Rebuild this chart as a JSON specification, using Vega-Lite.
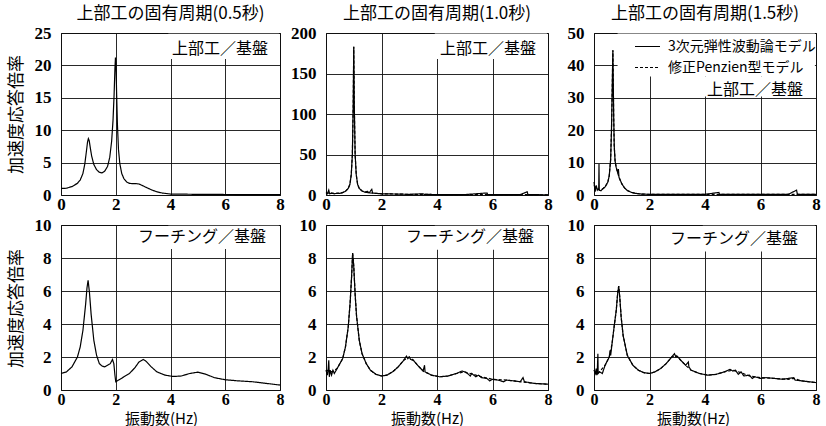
{
"$schema": "https://vega.github.io/schema/vega-lite/v6.json",
"background": "white",
"padding": {"left": 6, "top": 4, "right": 5, "bottom": 2},
"datasets": {
"boxes": [
{"p":1,"x":3.92,"x2":7.96,"y":21,"y2":24.9},
{"p":2,"x":3.92,"x2":7.96,"y":168,"y2":199.3},
{"p":3,"x":0.85,"x2":7.96,"y":36.6,"y2":49.85},
{"p":3,"x":3.9,"x2":7.96,"y":30.4,"y2":36.6},
{"p":4,"x":3.92,"x2":7.96,"y":8.55,"y2":9.95},
{"p":5,"x":3.92,"x2":7.96,"y":8.5,"y2":9.95},
{"p":6,"x":3.92,"x2":7.96,"y":8.4,"y2":9.95}
],
"labels": [
{"p":1,"x":7.56,"y":22.5,"t":"上部工／基盤"},
{"p":2,"x":7.57,"y":180,"t":"上部工／基盤"},
{"p":3,"x":7.53,"y":32.4,"t":"上部工／基盤"},
{"p":4,"x":7.49,"y":9.27,"t":"フーチング／基盤"},
{"p":5,"x":7.5,"y":9.27,"t":"フーチング／基盤"},
{"p":6,"x":7.35,"y":9.15,"t":"フーチング／基盤"}
],
"c": [
{"p":1,"m":"A","x":0,"y":1.0},{"p":1,"m":"A","x":0.2,"y":1.05},{"p":1,"m":"A","x":0.4,"y":1.3},{"p":1,"m":"A","x":0.6,"y":1.8},{"p":1,"m":"A","x":0.7,"y":2.3},{"p":1,"m":"A","x":0.8,"y":3.3},{"p":1,"m":"A","x":0.87,"y":4.8},{"p":1,"m":"A","x":0.93,"y":6.8},{"p":1,"m":"A","x":0.97,"y":8.2},{"p":1,"m":"A","x":1.0,"y":8.7},{"p":1,"m":"A","x":1.03,"y":8.4},{"p":1,"m":"A","x":1.07,"y":7.3},{"p":1,"m":"A","x":1.12,"y":6.0},{"p":1,"m":"A","x":1.2,"y":4.7},{"p":1,"m":"A","x":1.3,"y":3.9},{"p":1,"m":"A","x":1.4,"y":3.5},{"p":1,"m":"A","x":1.5,"y":3.4},{"p":1,"m":"A","x":1.6,"y":3.7},{"p":1,"m":"A","x":1.7,"y":4.4},{"p":1,"m":"A","x":1.78,"y":5.8},{"p":1,"m":"A","x":1.85,"y":8.3},{"p":1,"m":"A","x":1.9,"y":11.5},{"p":1,"m":"A","x":1.94,"y":15.5},{"p":1,"m":"A","x":1.97,"y":19.5},{"p":1,"m":"A","x":1.99,"y":21.2},{"p":1,"m":"A","x":2.01,"y":20},{"p":1,"m":"A","x":2.03,"y":16},{"p":1,"m":"A","x":2.06,"y":11},{"p":1,"m":"A","x":2.1,"y":7},{"p":1,"m":"A","x":2.15,"y":4.8},{"p":1,"m":"A","x":2.22,"y":3.3},{"p":1,"m":"A","x":2.3,"y":2.5},{"p":1,"m":"A","x":2.4,"y":2.0},{"p":1,"m":"A","x":2.5,"y":1.8},{"p":1,"m":"A","x":2.6,"y":1.75},{"p":1,"m":"A","x":2.75,"y":1.75},{"p":1,"m":"A","x":2.85,"y":1.7},{"p":1,"m":"A","x":2.95,"y":1.5},{"p":1,"m":"A","x":3.1,"y":1.2},{"p":1,"m":"A","x":3.3,"y":0.8},{"p":1,"m":"A","x":3.5,"y":0.5},{"p":1,"m":"A","x":3.7,"y":0.3},{"p":1,"m":"A","x":4.0,"y":0.15},{"p":1,"m":"A","x":5,"y":0.1},{"p":1,"m":"A","x":6,"y":0.08},{"p":1,"m":"A","x":7,"y":0.06},{"p":1,"m":"A","x":8,"y":0.05},

{"p":2,"m":"B","x":0,"y":2.5},{"p":2,"m":"B","x":0.2,"y":2},{"p":2,"m":"B","x":0.4,"y":2},{"p":2,"m":"B","x":0.6,"y":3},{"p":2,"m":"B","x":0.7,"y":4.5},{"p":2,"m":"B","x":0.8,"y":8},{"p":2,"m":"B","x":0.86,"y":13},{"p":2,"m":"B","x":0.91,"y":25},{"p":2,"m":"B","x":0.95,"y":50},{"p":2,"m":"B","x":0.98,"y":110},{"p":2,"m":"B","x":1.0,"y":183},{"p":2,"m":"B","x":1.02,"y":110},{"p":2,"m":"B","x":1.05,"y":50},{"p":2,"m":"B","x":1.09,"y":25},{"p":2,"m":"B","x":1.14,"y":13},{"p":2,"m":"B","x":1.2,"y":8},{"p":2,"m":"B","x":1.3,"y":5},{"p":2,"m":"B","x":1.4,"y":3.5},{"p":2,"m":"B","x":1.6,"y":2.5},{"p":2,"m":"B","x":1.8,"y":2},{"p":2,"m":"B","x":2,"y":1.5},{"p":2,"m":"B","x":3,"y":0.8},{"p":2,"m":"B","x":4,"y":0.6},{"p":2,"m":"B","x":5,"y":0.5},{"p":2,"m":"B","x":6,"y":0.5},{"p":2,"m":"B","x":7,"y":0.4},{"p":2,"m":"B","x":8,"y":0.3},
{"p":2,"m":"A","x":0,"y":3},{"p":2,"m":"A","x":0.05,"y":1.5},{"p":2,"m":"A","x":0.1,"y":6},{"p":2,"m":"A","x":0.13,"y":1.5},{"p":2,"m":"A","x":0.2,"y":2.5},{"p":2,"m":"A","x":0.3,"y":1.5},{"p":2,"m":"A","x":0.4,"y":2.2},{"p":2,"m":"A","x":0.5,"y":2},{"p":2,"m":"A","x":0.6,"y":3},{"p":2,"m":"A","x":0.7,"y":4.5},{"p":2,"m":"A","x":0.8,"y":8},{"p":2,"m":"A","x":0.86,"y":13},{"p":2,"m":"A","x":0.91,"y":25},{"p":2,"m":"A","x":0.95,"y":50},{"p":2,"m":"A","x":0.98,"y":110},{"p":2,"m":"A","x":1.0,"y":183},{"p":2,"m":"A","x":1.02,"y":110},{"p":2,"m":"A","x":1.05,"y":50},{"p":2,"m":"A","x":1.09,"y":25},{"p":2,"m":"A","x":1.14,"y":13},{"p":2,"m":"A","x":1.2,"y":8},{"p":2,"m":"A","x":1.3,"y":5},{"p":2,"m":"A","x":1.4,"y":3.5},{"p":2,"m":"A","x":1.5,"y":4.5},{"p":2,"m":"A","x":1.55,"y":2.5},{"p":2,"m":"A","x":1.65,"y":7},{"p":2,"m":"A","x":1.68,"y":2.5},{"p":2,"m":"A","x":1.8,"y":2},{"p":2,"m":"A","x":2,"y":1.5},{"p":2,"m":"A","x":2.5,"y":1.2},{"p":2,"m":"A","x":3,"y":0.8},{"p":2,"m":"A","x":3.5,"y":1.5},{"p":2,"m":"A","x":3.55,"y":0.7},{"p":2,"m":"A","x":4,"y":0.6},{"p":2,"m":"A","x":5,"y":0.5},{"p":2,"m":"A","x":5.8,"y":2.5},{"p":2,"m":"A","x":5.83,"y":0.5},{"p":2,"m":"A","x":6,"y":0.5},{"p":2,"m":"A","x":7,"y":0.4},{"p":2,"m":"A","x":7.25,"y":4},{"p":2,"m":"A","x":7.28,"y":0.4},{"p":2,"m":"A","x":8,"y":0.3},

{"p":3,"m":"B","x":0,"y":3},{"p":3,"m":"B","x":0.1,"y":2},{"p":3,"m":"B","x":0.2,"y":1.5},{"p":3,"m":"B","x":0.3,"y":1.8},{"p":3,"m":"B","x":0.4,"y":2.5},{"p":3,"m":"B","x":0.5,"y":4},{"p":3,"m":"B","x":0.55,"y":6},{"p":3,"m":"B","x":0.6,"y":11},{"p":3,"m":"B","x":0.63,"y":20},{"p":3,"m":"B","x":0.655,"y":32},{"p":3,"m":"B","x":0.67,"y":40},{"p":3,"m":"B","x":0.68,"y":44.7},{"p":3,"m":"B","x":0.69,"y":38},{"p":3,"m":"B","x":0.71,"y":24},{"p":3,"m":"B","x":0.73,"y":15},{"p":3,"m":"B","x":0.76,"y":10.5},{"p":3,"m":"B","x":0.8,"y":8.5},{"p":3,"m":"B","x":0.85,"y":7},{"p":3,"m":"B","x":0.9,"y":5.5},{"p":3,"m":"B","x":1.0,"y":3.5},{"p":3,"m":"B","x":1.1,"y":2.2},{"p":3,"m":"B","x":1.2,"y":1.4},{"p":3,"m":"B","x":1.35,"y":0.8},{"p":3,"m":"B","x":1.5,"y":0.5},{"p":3,"m":"B","x":1.7,"y":0.3},{"p":3,"m":"B","x":2,"y":0.2},{"p":3,"m":"B","x":4,"y":0.2},{"p":3,"m":"B","x":6,"y":0.2},{"p":3,"m":"B","x":8,"y":0.2},
{"p":3,"m":"A","x":0,"y":4},{"p":3,"m":"A","x":0.04,"y":1},{"p":3,"m":"A","x":0.08,"y":3},{"p":3,"m":"A","x":0.12,"y":1.5},{"p":3,"m":"A","x":0.17,"y":2},{"p":3,"m":"A","x":0.18,"y":9.6},{"p":3,"m":"A","x":0.19,"y":1.5},{"p":3,"m":"A","x":0.25,"y":1.3},{"p":3,"m":"A","x":0.3,"y":1.8},{"p":3,"m":"A","x":0.4,"y":2.5},{"p":3,"m":"A","x":0.5,"y":4},{"p":3,"m":"A","x":0.55,"y":6},{"p":3,"m":"A","x":0.6,"y":11},{"p":3,"m":"A","x":0.63,"y":20},{"p":3,"m":"A","x":0.655,"y":32},{"p":3,"m":"A","x":0.67,"y":40},{"p":3,"m":"A","x":0.68,"y":44.7},{"p":3,"m":"A","x":0.69,"y":38},{"p":3,"m":"A","x":0.71,"y":24},{"p":3,"m":"A","x":0.73,"y":15},{"p":3,"m":"A","x":0.76,"y":10.5},{"p":3,"m":"A","x":0.8,"y":8.5},{"p":3,"m":"A","x":0.85,"y":7},{"p":3,"m":"A","x":0.88,"y":8},{"p":3,"m":"A","x":0.9,"y":5.5},{"p":3,"m":"A","x":1.0,"y":3.5},{"p":3,"m":"A","x":1.1,"y":2.2},{"p":3,"m":"A","x":1.2,"y":1.4},{"p":3,"m":"A","x":1.35,"y":0.8},{"p":3,"m":"A","x":1.5,"y":0.5},{"p":3,"m":"A","x":1.7,"y":0.3},{"p":3,"m":"A","x":2,"y":0.2},{"p":3,"m":"A","x":3,"y":0.2},{"p":3,"m":"A","x":4,"y":0.2},{"p":3,"m":"A","x":4.5,"y":0.8},{"p":3,"m":"A","x":4.52,"y":0.2},{"p":3,"m":"A","x":5,"y":0.2},{"p":3,"m":"A","x":6,"y":0.2},{"p":3,"m":"A","x":7,"y":0.2},{"p":3,"m":"A","x":7.3,"y":1.5},{"p":3,"m":"A","x":7.33,"y":0.2},{"p":3,"m":"A","x":8,"y":0.2},

{"p":4,"m":"A","x":0,"y":1.0},{"p":4,"m":"A","x":0.2,"y":1.1},{"p":4,"m":"A","x":0.4,"y":1.4},{"p":4,"m":"A","x":0.6,"y":2.0},{"p":4,"m":"A","x":0.7,"y":2.6},{"p":4,"m":"A","x":0.8,"y":3.6},{"p":4,"m":"A","x":0.9,"y":5.2},{"p":4,"m":"A","x":0.95,"y":6.2},{"p":4,"m":"A","x":0.99,"y":6.65},{"p":4,"m":"A","x":1.04,"y":5.9},{"p":4,"m":"A","x":1.1,"y":4.6},{"p":4,"m":"A","x":1.2,"y":3.0},{"p":4,"m":"A","x":1.3,"y":2.1},{"p":4,"m":"A","x":1.4,"y":1.6},{"p":4,"m":"A","x":1.5,"y":1.45},{"p":4,"m":"A","x":1.6,"y":1.4},{"p":4,"m":"A","x":1.7,"y":1.5},{"p":4,"m":"A","x":1.8,"y":1.6},{"p":4,"m":"A","x":1.88,"y":1.85},{"p":4,"m":"A","x":1.93,"y":1.6},{"p":4,"m":"A","x":1.97,"y":0.9},{"p":4,"m":"A","x":2.0,"y":0.5},{"p":4,"m":"A","x":2.1,"y":0.6},{"p":4,"m":"A","x":2.3,"y":0.8},{"p":4,"m":"A","x":2.5,"y":1.0},{"p":4,"m":"A","x":2.7,"y":1.35},{"p":4,"m":"A","x":2.85,"y":1.7},{"p":4,"m":"A","x":3.0,"y":1.85},{"p":4,"m":"A","x":3.1,"y":1.75},{"p":4,"m":"A","x":3.3,"y":1.4},{"p":4,"m":"A","x":3.5,"y":1.1},{"p":4,"m":"A","x":3.8,"y":0.9},{"p":4,"m":"A","x":4.1,"y":0.82},{"p":4,"m":"A","x":4.4,"y":0.85},{"p":4,"m":"A","x":4.7,"y":1.0},{"p":4,"m":"A","x":5.0,"y":1.08},{"p":4,"m":"A","x":5.3,"y":0.95},{"p":4,"m":"A","x":5.6,"y":0.75},{"p":4,"m":"A","x":6.0,"y":0.62},{"p":4,"m":"A","x":6.5,"y":0.55},{"p":4,"m":"A","x":7.0,"y":0.5},{"p":4,"m":"A","x":7.5,"y":0.4},{"p":4,"m":"A","x":8.0,"y":0.3},

{"p":5,"m":"B","x":0,"y":1.2},{"p":5,"m":"B","x":0.2,"y":1.1},{"p":5,"m":"B","x":0.4,"y":1.3},{"p":5,"m":"B","x":0.6,"y":1.9},{"p":5,"m":"B","x":0.7,"y":2.6},{"p":5,"m":"B","x":0.8,"y":3.8},{"p":5,"m":"B","x":0.87,"y":5.3},{"p":5,"m":"B","x":0.92,"y":6.8},{"p":5,"m":"B","x":0.96,"y":8.3},{"p":5,"m":"B","x":1.0,"y":7.5},{"p":5,"m":"B","x":1.05,"y":5.8},{"p":5,"m":"B","x":1.1,"y":4.5},{"p":5,"m":"B","x":1.2,"y":3.0},{"p":5,"m":"B","x":1.3,"y":2.2},{"p":5,"m":"B","x":1.45,"y":1.6},{"p":5,"m":"B","x":1.6,"y":1.2},{"p":5,"m":"B","x":1.8,"y":0.95},{"p":5,"m":"B","x":2.0,"y":0.85},{"p":5,"m":"B","x":2.2,"y":0.9},{"p":5,"m":"B","x":2.4,"y":1.1},{"p":5,"m":"B","x":2.6,"y":1.4},{"p":5,"m":"B","x":2.8,"y":1.8},{"p":5,"m":"B","x":3.0,"y":2.0},{"p":5,"m":"B","x":3.15,"y":1.8},{"p":5,"m":"B","x":3.3,"y":1.5},{"p":5,"m":"B","x":3.5,"y":1.15},{"p":5,"m":"B","x":3.8,"y":0.9},{"p":5,"m":"B","x":4.1,"y":0.8},{"p":5,"m":"B","x":4.4,"y":0.85},{"p":5,"m":"B","x":4.7,"y":1.0},{"p":5,"m":"B","x":5.0,"y":1.1},{"p":5,"m":"B","x":5.3,"y":0.95},{"p":5,"m":"B","x":5.6,"y":0.8},{"p":5,"m":"B","x":6.0,"y":0.65},{"p":5,"m":"B","x":6.5,"y":0.6},{"p":5,"m":"B","x":7.0,"y":0.5},{"p":5,"m":"B","x":7.5,"y":0.4},{"p":5,"m":"B","x":8.0,"y":0.35},
{"p":5,"m":"A","x":0,"y":1.2},{"p":5,"m":"A","x":0.05,"y":0.9},{"p":5,"m":"A","x":0.08,"y":1.3},{"p":5,"m":"A","x":0.1,"y":1.8},{"p":5,"m":"A","x":0.12,"y":0.8},{"p":5,"m":"A","x":0.15,"y":1.2},{"p":5,"m":"A","x":0.2,"y":0.9},{"p":5,"m":"A","x":0.25,"y":1.2},{"p":5,"m":"A","x":0.3,"y":1.0},{"p":5,"m":"A","x":0.4,"y":1.3},{"p":5,"m":"A","x":0.6,"y":1.9},{"p":5,"m":"A","x":0.7,"y":2.6},{"p":5,"m":"A","x":0.8,"y":3.8},{"p":5,"m":"A","x":0.87,"y":5.3},{"p":5,"m":"A","x":0.92,"y":6.8},{"p":5,"m":"A","x":0.96,"y":8.3},{"p":5,"m":"A","x":1.0,"y":7.5},{"p":5,"m":"A","x":1.05,"y":5.8},{"p":5,"m":"A","x":1.1,"y":4.5},{"p":5,"m":"A","x":1.2,"y":3.0},{"p":5,"m":"A","x":1.3,"y":2.2},{"p":5,"m":"A","x":1.45,"y":1.6},{"p":5,"m":"A","x":1.6,"y":1.2},{"p":5,"m":"A","x":1.8,"y":0.95},{"p":5,"m":"A","x":2.0,"y":0.85},{"p":5,"m":"A","x":2.2,"y":0.9},{"p":5,"m":"A","x":2.4,"y":1.1},{"p":5,"m":"A","x":2.6,"y":1.4},{"p":5,"m":"A","x":2.8,"y":1.8},{"p":5,"m":"A","x":2.9,"y":2.05},{"p":5,"m":"A","x":2.95,"y":1.9},{"p":5,"m":"A","x":3.0,"y":2.0},{"p":5,"m":"A","x":3.05,"y":1.85},{"p":5,"m":"A","x":3.15,"y":1.8},{"p":5,"m":"A","x":3.3,"y":1.5},{"p":5,"m":"A","x":3.5,"y":1.15},{"p":5,"m":"A","x":3.55,"y":1.5},{"p":5,"m":"A","x":3.57,"y":1.1},{"p":5,"m":"A","x":3.8,"y":0.9},{"p":5,"m":"A","x":4.1,"y":0.8},{"p":5,"m":"A","x":4.4,"y":0.85},{"p":5,"m":"A","x":4.7,"y":1.0},{"p":5,"m":"A","x":4.9,"y":1.15},{"p":5,"m":"A","x":5.0,"y":1.1},{"p":5,"m":"A","x":5.1,"y":1.0},{"p":5,"m":"A","x":5.2,"y":0.85},{"p":5,"m":"A","x":5.25,"y":1.0},{"p":5,"m":"A","x":5.4,"y":0.8},{"p":5,"m":"A","x":5.5,"y":0.9},{"p":5,"m":"A","x":5.6,"y":0.75},{"p":5,"m":"A","x":5.8,"y":0.7},{"p":5,"m":"A","x":5.9,"y":0.55},{"p":5,"m":"A","x":6.0,"y":0.65},{"p":5,"m":"A","x":6.2,"y":0.6},{"p":5,"m":"A","x":6.4,"y":0.5},{"p":5,"m":"A","x":6.5,"y":0.6},{"p":5,"m":"A","x":6.8,"y":0.55},{"p":5,"m":"A","x":7.0,"y":0.5},{"p":5,"m":"A","x":7.1,"y":0.75},{"p":5,"m":"A","x":7.15,"y":0.5},{"p":5,"m":"A","x":7.5,"y":0.4},{"p":5,"m":"A","x":8.0,"y":0.35},

{"p":6,"m":"B","x":0,"y":1.2},{"p":6,"m":"B","x":0.1,"y":1.0},{"p":6,"m":"B","x":0.2,"y":1.1},{"p":6,"m":"B","x":0.4,"y":1.5},{"p":6,"m":"B","x":0.55,"y":2.0},{"p":6,"m":"B","x":0.65,"y":2.8},{"p":6,"m":"B","x":0.73,"y":3.9},{"p":6,"m":"B","x":0.8,"y":4.8},{"p":6,"m":"B","x":0.85,"y":5.8},{"p":6,"m":"B","x":0.89,"y":6.3},{"p":6,"m":"B","x":0.93,"y":5.6},{"p":6,"m":"B","x":0.98,"y":4.4},{"p":6,"m":"B","x":1.05,"y":3.3},{"p":6,"m":"B","x":1.2,"y":2.1},{"p":6,"m":"B","x":1.4,"y":1.5},{"p":6,"m":"B","x":1.6,"y":1.2},{"p":6,"m":"B","x":1.8,"y":1.05},{"p":6,"m":"B","x":2.0,"y":1.0},{"p":6,"m":"B","x":2.2,"y":1.1},{"p":6,"m":"B","x":2.4,"y":1.3},{"p":6,"m":"B","x":2.6,"y":1.6},{"p":6,"m":"B","x":2.8,"y":2.0},{"p":6,"m":"B","x":2.95,"y":2.1},{"p":6,"m":"B","x":3.1,"y":1.85},{"p":6,"m":"B","x":3.3,"y":1.5},{"p":6,"m":"B","x":3.5,"y":1.2},{"p":6,"m":"B","x":3.8,"y":1.0},{"p":6,"m":"B","x":4.1,"y":0.9},{"p":6,"m":"B","x":4.4,"y":0.95},{"p":6,"m":"B","x":4.7,"y":1.1},{"p":6,"m":"B","x":5.0,"y":1.2},{"p":6,"m":"B","x":5.3,"y":1.05},{"p":6,"m":"B","x":5.6,"y":0.85},{"p":6,"m":"B","x":6.0,"y":0.75},{"p":6,"m":"B","x":6.5,"y":0.7},{"p":6,"m":"B","x":7.0,"y":0.65},{"p":6,"m":"B","x":7.2,"y":0.7},{"p":6,"m":"B","x":7.5,"y":0.55},{"p":6,"m":"B","x":8.0,"y":0.45},
{"p":6,"m":"A","x":0,"y":1.2},{"p":6,"m":"A","x":0.05,"y":1.0},{"p":6,"m":"A","x":0.08,"y":1.3},{"p":6,"m":"A","x":0.1,"y":0.9},{"p":6,"m":"A","x":0.12,"y":1.2},{"p":6,"m":"A","x":0.14,"y":2.2},{"p":6,"m":"A","x":0.15,"y":1.0},{"p":6,"m":"A","x":0.2,"y":1.1},{"p":6,"m":"A","x":0.3,"y":1.0},{"p":6,"m":"A","x":0.4,"y":1.5},{"p":6,"m":"A","x":0.55,"y":2.0},{"p":6,"m":"A","x":0.58,"y":2.4},{"p":6,"m":"A","x":0.6,"y":2.1},{"p":6,"m":"A","x":0.65,"y":2.8},{"p":6,"m":"A","x":0.73,"y":3.9},{"p":6,"m":"A","x":0.8,"y":4.8},{"p":6,"m":"A","x":0.85,"y":5.8},{"p":6,"m":"A","x":0.89,"y":6.3},{"p":6,"m":"A","x":0.93,"y":5.6},{"p":6,"m":"A","x":0.98,"y":4.4},{"p":6,"m":"A","x":1.05,"y":3.3},{"p":6,"m":"A","x":1.2,"y":2.1},{"p":6,"m":"A","x":1.4,"y":1.5},{"p":6,"m":"A","x":1.6,"y":1.2},{"p":6,"m":"A","x":1.8,"y":1.05},{"p":6,"m":"A","x":2.0,"y":1.0},{"p":6,"m":"A","x":2.2,"y":1.1},{"p":6,"m":"A","x":2.4,"y":1.3},{"p":6,"m":"A","x":2.6,"y":1.6},{"p":6,"m":"A","x":2.8,"y":2.0},{"p":6,"m":"A","x":2.9,"y":2.2},{"p":6,"m":"A","x":2.95,"y":2.0},{"p":6,"m":"A","x":3.0,"y":2.05},{"p":6,"m":"A","x":3.1,"y":1.85},{"p":6,"m":"A","x":3.3,"y":1.5},{"p":6,"m":"A","x":3.4,"y":1.7},{"p":6,"m":"A","x":3.42,"y":1.4},{"p":6,"m":"A","x":3.5,"y":1.2},{"p":6,"m":"A","x":3.8,"y":1.0},{"p":6,"m":"A","x":4.1,"y":0.9},{"p":6,"m":"A","x":4.4,"y":0.95},{"p":6,"m":"A","x":4.7,"y":1.1},{"p":6,"m":"A","x":4.9,"y":1.25},{"p":6,"m":"A","x":5.0,"y":1.15},{"p":6,"m":"A","x":5.1,"y":1.2},{"p":6,"m":"A","x":5.2,"y":0.95},{"p":6,"m":"A","x":5.3,"y":1.1},{"p":6,"m":"A","x":5.4,"y":0.85},{"p":6,"m":"A","x":5.6,"y":0.9},{"p":6,"m":"A","x":5.7,"y":0.7},{"p":6,"m":"A","x":5.8,"y":0.8},{"p":6,"m":"A","x":6.0,"y":0.7},{"p":6,"m":"A","x":6.2,"y":0.75},{"p":6,"m":"A","x":6.5,"y":0.7},{"p":6,"m":"A","x":6.8,"y":0.65},{"p":6,"m":"A","x":7.0,"y":0.7},{"p":6,"m":"A","x":7.2,"y":0.75},{"p":6,"m":"A","x":7.25,"y":0.6},{"p":6,"m":"A","x":7.5,"y":0.55},{"p":6,"m":"A","x":8.0,"y":0.45}
]
},
"columns": 3,
"bounds": "flush",
"spacing": {"row": 30, "column": 46},
"resolve": {"scale": {"strokeDash": "independent"}, "legend": {"strokeDash": "independent"}},
"concat": [
{
"width": 219, "height": 162,
"title": {"text": "上部工の固有周期(0.5秒)"},
"encoding": {
 "x": {"field": "x", "type": "quantitative", "scale": {"domain": [0, 8], "nice": false}, "axis": {"values": [0, 2, 4, 6, 8], "title": null, "labelOverlap": false}},
 "y": {"field": "y", "type": "quantitative", "scale": {"domain": [0, 25], "nice": false}, "axis": {"values": [0, 5, 10, 15, 20, 25], "labelOverlap": false, "title": "加速度応答倍率", "titleX": -36, "titleY": 81}}
},
"layer": [
{"data": {"name": "boxes"}, "transform": [{"filter": "datum.p==1"}], "mark": {"type": "rect", "fill": "white"}, "encoding": {"x2": {"field": "x2"}, "y2": {"field": "y2"}}},
{"data": {"name": "c"}, "transform": [{"filter": "datum.p==1"}], "mark": {"type": "line", "color": "black", "strokeWidth": 1.2},
 "encoding": {"strokeDash": {"field": "m", "type": "nominal", "scale": {"domain": ["A", "B"], "range": [[1, 0], [3, 2]]}, "legend": null}}},
{"data": {"name": "labels"}, "transform": [{"filter": "datum.p==1"}], "mark": {"type": "text", "align": "right", "baseline": "middle", "fontSize": 16, "color": "black"}, "encoding": {"text": {"field": "t"}}}
]
},
{
"width": 222, "height": 162,
"title": {"text": "上部工の固有周期(1.0秒)"},
"encoding": {
 "x": {"field": "x", "type": "quantitative", "scale": {"domain": [0, 8], "nice": false}, "axis": {"values": [0, 2, 4, 6, 8], "title": null, "labelOverlap": false}},
 "y": {"field": "y", "type": "quantitative", "scale": {"domain": [0, 200], "nice": false}, "axis": {"values": [0, 50, 100, 150, 200], "title": null, "labelOverlap": false}}
},
"layer": [
{"data": {"name": "boxes"}, "transform": [{"filter": "datum.p==2"}], "mark": {"type": "rect", "fill": "white"}, "encoding": {"x2": {"field": "x2"}, "y2": {"field": "y2"}}},
{"data": {"name": "c"}, "transform": [{"filter": "datum.p==2"}], "mark": {"type": "line", "color": "black", "strokeWidth": 1.2},
 "encoding": {"strokeDash": {"field": "m", "type": "nominal", "scale": {"domain": ["A", "B"], "range": [[1, 0], [3, 2]]}, "legend": null}}},
{"data": {"name": "labels"}, "transform": [{"filter": "datum.p==2"}], "mark": {"type": "text", "align": "right", "baseline": "middle", "fontSize": 16, "color": "black"}, "encoding": {"text": {"field": "t"}}}
]
},
{
"width": 222, "height": 162,
"title": {"text": "上部工の固有周期(1.5秒)"},
"encoding": {
 "x": {"field": "x", "type": "quantitative", "scale": {"domain": [0, 8], "nice": false}, "axis": {"values": [0, 2, 4, 6, 8], "title": null, "labelOverlap": false}},
 "y": {"field": "y", "type": "quantitative", "scale": {"domain": [0, 50], "nice": false}, "axis": {"values": [0, 10, 20, 30, 40, 50], "title": null, "labelOverlap": false}}
},
"layer": [
{"data": {"name": "boxes"}, "transform": [{"filter": "datum.p==3"}], "mark": {"type": "rect", "fill": "white"}, "encoding": {"x2": {"field": "x2"}, "y2": {"field": "y2"}}},
{"data": {"name": "c"}, "transform": [{"filter": "datum.p==3"}], "mark": {"type": "line", "color": "black", "strokeWidth": 1.2},
 "encoding": {"strokeDash": {"field": "m", "type": "nominal", "scale": {"domain": ["A", "B"], "range": [[1, 0], [3, 2]]},
   "legend": {"orient": "top-right", "offset": 0, "title": null, "padding": 0, "rowPadding": -6,
    "labelExpr": "datum.label == 'A' ? '3次元弾性波動論モデル' : '修正Penzien型モデル'",
    "labelFont": "Noto Sans CJK JP", "labelFontSize": 14, "labelColor": "black", "labelLimit": 300, "labelOffset": 7,
    "symbolType": "stroke", "symbolSize": 625, "symbolStrokeWidth": 1.2, "symbolStrokeColor": "black"}}}},
{"data": {"name": "labels"}, "transform": [{"filter": "datum.p==3"}], "mark": {"type": "text", "align": "right", "baseline": "middle", "fontSize": 16, "color": "black"}, "encoding": {"text": {"field": "t"}}}
]
},
{
"width": 219, "height": 165,
"encoding": {
 "x": {"field": "x", "type": "quantitative", "scale": {"domain": [0, 8], "nice": false}, "axis": {"values": [0, 2, 4, 6, 8], "labelOverlap": false, "labelFontSize": 16, "title": "振動数(Hz)", "titleX": 100, "titleY": 21}},
 "y": {"field": "y", "type": "quantitative", "scale": {"domain": [0, 10], "nice": false}, "axis": {"values": [0, 2, 4, 6, 8, 10], "labelOverlap": false, "title": "加速度応答倍率", "titleX": -36, "titleY": 83}}
},
"layer": [
{"data": {"name": "boxes"}, "transform": [{"filter": "datum.p==4"}], "mark": {"type": "rect", "fill": "white"}, "encoding": {"x2": {"field": "x2"}, "y2": {"field": "y2"}}},
{"data": {"name": "c"}, "transform": [{"filter": "datum.p==4"}], "mark": {"type": "line", "color": "black", "strokeWidth": 1.2},
 "encoding": {"strokeDash": {"field": "m", "type": "nominal", "scale": {"domain": ["A", "B"], "range": [[1, 0], [3, 2]]}, "legend": null}}},
{"data": {"name": "labels"}, "transform": [{"filter": "datum.p==4"}], "mark": {"type": "text", "align": "right", "baseline": "middle", "fontSize": 16, "color": "black"}, "encoding": {"text": {"field": "t"}}}
]
},
{
"width": 222, "height": 165,
"encoding": {
 "x": {"field": "x", "type": "quantitative", "scale": {"domain": [0, 8], "nice": false}, "axis": {"values": [0, 2, 4, 6, 8], "labelOverlap": false, "labelFontSize": 16, "title": "振動数(Hz)", "titleX": 101, "titleY": 21}},
 "y": {"field": "y", "type": "quantitative", "scale": {"domain": [0, 10], "nice": false}, "axis": {"values": [0, 2, 4, 6, 8, 10], "title": null, "labelOverlap": false}}
},
"layer": [
{"data": {"name": "boxes"}, "transform": [{"filter": "datum.p==5"}], "mark": {"type": "rect", "fill": "white"}, "encoding": {"x2": {"field": "x2"}, "y2": {"field": "y2"}}},
{"data": {"name": "c"}, "transform": [{"filter": "datum.p==5"}], "mark": {"type": "line", "color": "black", "strokeWidth": 1.2},
 "encoding": {"strokeDash": {"field": "m", "type": "nominal", "scale": {"domain": ["A", "B"], "range": [[1, 0], [3, 2]]}, "legend": null}}},
{"data": {"name": "labels"}, "transform": [{"filter": "datum.p==5"}], "mark": {"type": "text", "align": "right", "baseline": "middle", "fontSize": 16, "color": "black"}, "encoding": {"text": {"field": "t"}}}
]
},
{
"width": 222, "height": 165,
"encoding": {
 "x": {"field": "x", "type": "quantitative", "scale": {"domain": [0, 8], "nice": false}, "axis": {"values": [0, 2, 4, 6, 8], "labelOverlap": false, "labelFontSize": 16, "title": "振動数(Hz)", "titleX": 99, "titleY": 21}},
 "y": {"field": "y", "type": "quantitative", "scale": {"domain": [0, 10], "nice": false}, "axis": {"values": [0, 2, 4, 6, 8, 10], "title": null, "labelOverlap": false}}
},
"layer": [
{"data": {"name": "boxes"}, "transform": [{"filter": "datum.p==6"}], "mark": {"type": "rect", "fill": "white"}, "encoding": {"x2": {"field": "x2"}, "y2": {"field": "y2"}}},
{"data": {"name": "c"}, "transform": [{"filter": "datum.p==6"}], "mark": {"type": "line", "color": "black", "strokeWidth": 1.2},
 "encoding": {"strokeDash": {"field": "m", "type": "nominal", "scale": {"domain": ["A", "B"], "range": [[1, 0], [3, 2]]}, "legend": null}}},
{"data": {"name": "labels"}, "transform": [{"filter": "datum.p==6"}], "mark": {"type": "text", "align": "right", "baseline": "middle", "fontSize": 16, "color": "black"}, "encoding": {"text": {"field": "t"}}}
]
}
],
"config": {
 "font": "Noto Sans CJK JP",
 "view": {"stroke": "black", "strokeWidth": 1},
 "axis": {"grid": true, "gridColor": "#111111", "gridWidth": 0.9, "gridOpacity": 1, "ticks": false, "domain": false,
  "labelFont": "Liberation Serif", "labelFontWeight": "bold", "labelFontSize": 17, "labelColor": "black",
  "labelFlush": false, "labelOverlap": false, "labelBound": false,
  "titleFont": "Noto Sans CJK JP", "titleFontWeight": "normal", "titleColor": "black"},
 "axisX": {"labelPadding": 1, "titleFontSize": 15},
 "axisY": {"labelPadding": 10, "titleFontSize": 17},
 "title": {"font": "Noto Sans CJK JP", "fontSize": 17, "fontWeight": "normal", "color": "black", "offset": 1, "frame": "group"},
 "text": {"font": "Noto Sans CJK JP"}
}
}
